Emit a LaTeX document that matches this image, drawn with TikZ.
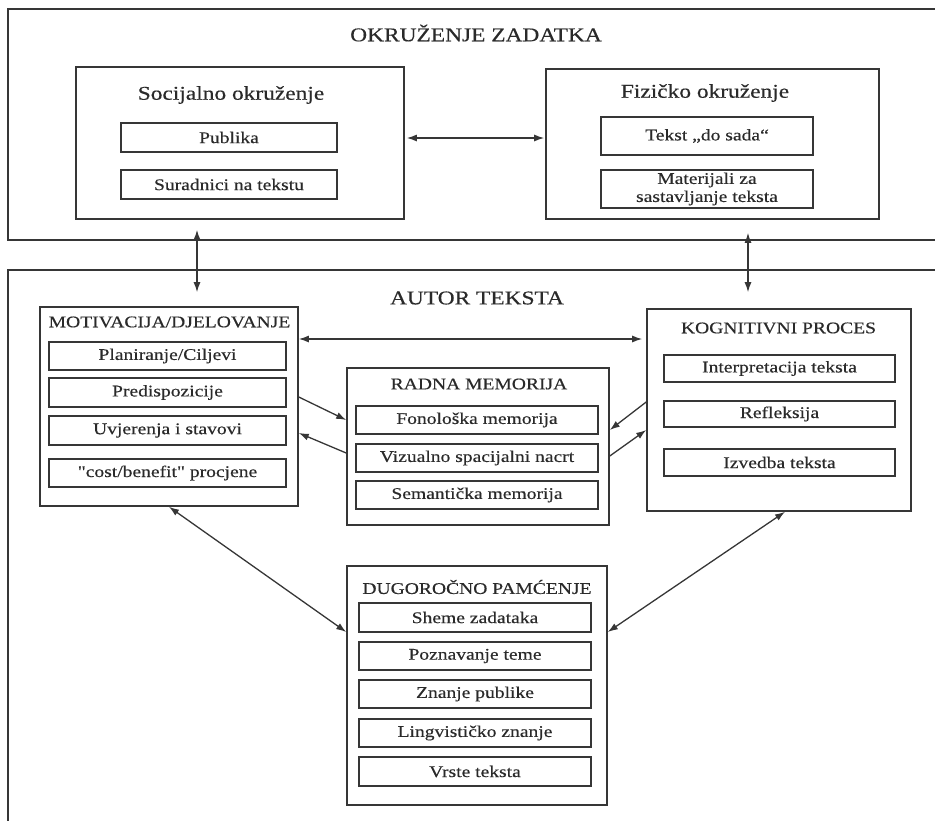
\documentclass[tikz,border=0pt]{standalone}
\usepackage{fontspec}
\setmainfont{Liberation Serif}[FakeStretch=1.2, FakeBold=0.4, Ligatures=TeXOff]
\usetikzlibrary{arrows.meta}
\definecolor{linec}{HTML}{363636}
\definecolor{textc}{HTML}{2A2A2A}
\begin{document}
\begin{tikzpicture}[x=1pt,y=-1pt,
  frameline/.style={draw=linec, line width=1.7pt},
  box/.style={draw=linec, line width=1.6pt, inner sep=0pt, text=textc,
    font=\fontsize{16.3}{19}\selectfont, align=center},
  bigt/.style={inner sep=0pt, text=textc, font=\fontsize{19.5}{22}\selectfont},
  midt/.style={inner sep=0pt, text=textc, font=\fontsize{16.3}{19}\selectfont},
  dbl/.style={draw=linec, line width=1.3pt, {Latex[length=10pt,width=7pt]}-{Latex[length=10pt,width=7pt]}},
  sgl/.style={draw=linec, line width=1.3pt, -{Latex[length=10pt,width=7pt]}}
]
\useasboundingbox (0,0) rectangle (935,820);
% outer frames
\draw[frameline] (940,9) -- (8,9) -- (8,240) -- (940,240);
\draw[frameline] (940,270) -- (8,270) -- (8,830);
\node[bigt] (tokr) at (476,33) {OKRUŽENJE ZADATKA};
\node[bigt] (taut) at (477,298) {AUTOR TEKSTA};

% Socijalno okruzenje
\node[box, minimum width=328, minimum height=152] (soc) at (240,143) {};
\node[bigt] (soct) at (231,95) {Socijalno okruženje};
\node[box, minimum width=216, minimum height=29] (pub) at (229,137.5) {Publika};
\node[box, minimum width=216, minimum height=29] (sur) at (229,184.5) {Suradnici na tekstu};

% Fizicko okruzenje
\node[box, minimum width=333, minimum height=150] (fiz) at (712.5,144) {};
\node[bigt] (fizt) at (705,93) {Fizičko okruženje};
\node[box, minimum width=212, minimum height=38] (tek) at (707,136) {Tekst „do sada“};
\node[box, minimum width=212, minimum height=38] (mat) at (707,189) {Materijali za\\[-1pt]sastavljanje teksta};

% Motivacija
\node[box, minimum width=258, minimum height=199] (mot) at (169,406.5) {};
\node[midt] (mott) at (169.5,322) {MOTIVACIJA/DJELOVANJE};
\node[box, minimum width=237, minimum height=28] (plan) at (167.5,356) {Planiranje/Ciljevi};
\node[box, minimum width=237, minimum height=29] (pred) at (167.5,392.5) {Predispozicije};
\node[box, minimum width=237, minimum height=29] (uvj) at (167.5,430.5) {Uvjerenja i stavovi};
\node[box, minimum width=237, minimum height=28] (cost) at (167.5,473) {"cost/benefit" procjene};

% Radna memorija
\node[box, minimum width=262, minimum height=157] (rad) at (478,446.5) {};
\node[midt] (radt) at (479,384) {RADNA MEMORIJA};
\node[box, minimum width=242, minimum height=28] (fon) at (477,420) {Fonološka memorija};
\node[box, minimum width=242, minimum height=28] (viz) at (477,458) {Vizualno spacijalni nacrt};
\node[box, minimum width=242, minimum height=28] (sem) at (477,495) {Semantička memorija};

% Kognitivni proces
\node[box, minimum width=264, minimum height=202] (kog) at (779,410) {};
\node[midt] (kogt) at (778.5,328) {KOGNITIVNI PROCES};
\node[box, minimum width=231, minimum height=27] (int) at (779.5,368.5) {Interpretacija teksta};
\node[box, minimum width=231, minimum height=26] (ref) at (779.5,414) {Refleksija};
\node[box, minimum width=231, minimum height=27] (izv) at (779.5,462.5) {Izvedba teksta};

% Dugorocno pamcenje
\node[box, minimum width=260, minimum height=239] (dug) at (477,685.5) {};
\node[midt] (dugt) at (477,587) {DUGOROČNO PAMĆENJE};
\node[box, minimum width=232, minimum height=29] (she) at (475,617.5) {Sheme zadataka};
\node[box, minimum width=232, minimum height=28] (poz) at (475,656) {Poznavanje teme};
\node[box, minimum width=232, minimum height=28] (zna) at (475,694) {Znanje publike};
\node[box, minimum width=232, minimum height=28] (lin) at (475,733) {Lingvističko znanje};
\node[box, minimum width=232, minimum height=29] (vrs) at (475,771.5) {Vrste teksta};

% connectors
\draw[dbl, shorten <=2pt, shorten >=1pt] ([yshift=5pt]soc.east) -- ([yshift=6pt]fiz.west);
\coordinate (sl) at ([xshift=-43pt]soc.south);
\draw[dbl, shorten <=10pt, shorten >=14pt] (sl) -- (sl |- mot.north);
\coordinate (fr) at ([xshift=35.5pt]fiz.south);
\draw[dbl, shorten <=13pt, shorten >=16pt] (fr) -- (fr |- kog.north);
\draw[dbl, shorten >=4pt] ([yshift=67.5pt]mot.east) -- ([yshift=71pt]kog.west);
\draw[sgl] ([yshift=9.5pt]mot.east) -- ([yshift=26.5pt]rad.west);
\draw[sgl] ([yshift=-6.5pt]rad.west) -- ([yshift=-26.5pt]mot.east);
\draw[sgl] ([yshift=8pt]kog.west) -- ([yshift=16.5pt]rad.east);
\draw[sgl] ([yshift=-9.5pt]rad.east) -- ([yshift=-20pt]kog.west);
\draw[dbl] (mot.south) -- ([yshift=53.5pt]dug.west);
\draw[dbl] ([xshift=6pt]kog.south) -- ([yshift=53.5pt]dug.east);
\end{tikzpicture}
\end{document}
